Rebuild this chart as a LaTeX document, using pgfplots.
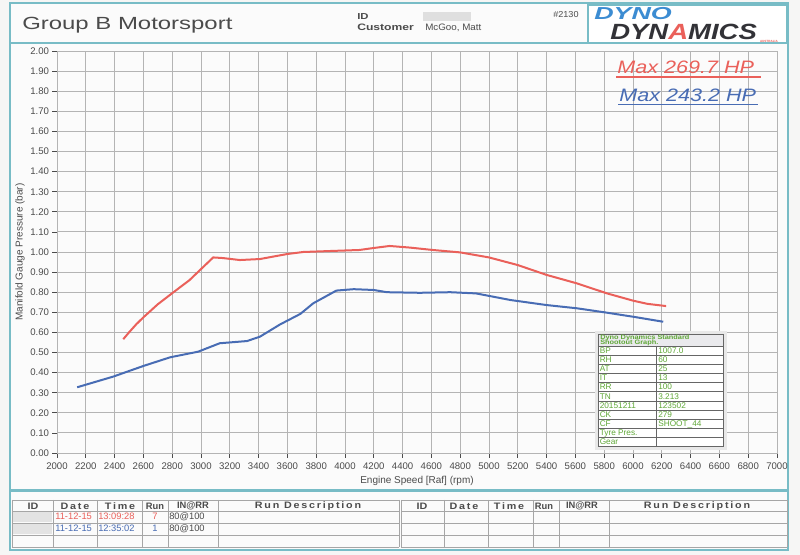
\documentclass[border=0pt]{standalone}
\usepackage{pgfplots}
\pgfplotsset{compat=1.18}
\usepackage{graphicx}
\usepackage{fontspec}
\setmainfont{Liberation Sans}
\definecolor{teal1}{RGB}{120,188,198}
\definecolor{redc}{RGB}{234,96,90}
\definecolor{bluec}{RGB}{72,108,180}
\definecolor{greenc}{RGB}{96,168,56}
\definecolor{gridc}{RGB}{180,180,180}
\definecolor{txt}{RGB}{75,75,75}
\definecolor{paper}{RGB}{246,246,245}
\definecolor{logob}{RGB}{60,140,210}
\definecolor{logod}{RGB}{50,50,55}
\newcommand{\sx}[2]{\scalebox{#1}[1]{#2}}
\newcommand{\fs}[1]{\fontsize{#1}{#1}\selectfont}
\begin{document}
\begin{tikzpicture}
\begin{scope}[x=0.75pt,y=-0.75pt]
\fill[paper] (0,0) rectangle (800,555);
\path[use as bounding box] (0,0) rectangle (800,555);
\fill[white!60!paper] (10,3) rectangle (788,550);
% header
\draw[teal1, line width=1.4pt] (10,3) rectangle (788,43);
\node[anchor=base west, inner sep=0, text=txt] at (22,29.5) {\sx{1.36}{\fs{13.2}Group B Motorsport}};
\node[anchor=base west, inner sep=0, text=txt] at (357,20) {\sx{1.3}{\fs{6.5}\bfseries ID}};
\node[anchor=base west, inner sep=0, text=txt] at (357,31) {\sx{1.3}{\fs{7}\bfseries Customer}};
\fill[gray!25] (423,12) rectangle (471,21);
\node[anchor=base west, inner sep=0, text=txt] at (425,31) {\sx{1.05}{\fs{7}McGoo, Matt}};
\node[anchor=base west, inner sep=0, text=txt] at (553,18) {\sx{1.05}{\fs{6.5}\#2130}};
% logo
\fill[white] (588,5) rectangle (787,43);
\draw[teal1, line width=1.4pt] (588,5) rectangle (787,43);
\node[anchor=base west, inner sep=0, text=logob] at (594,19.5) {\sx{1.55}{\fs{13}\bfseries\itshape DYNO}};
\node[anchor=base west, inner sep=0, text=logod] at (610,39.3) {\sx{1.25}{\fs{16.5}\bfseries\itshape DYN\textcolor{redc}{A}MICS}};
\node[anchor=base east, inner sep=0, text=redc] at (778,42.6) {\fs{2.3}\bfseries AUSTRALIA};
% plot panel
\draw[teal1, line width=1.4pt] (10,43) rectangle (788,490);
\node[rotate=90, text=txt, inner sep=0] at (20,252) {\fs{7.5}Manifold Gauge Pressure (bar)};
\node[text=txt, inner sep=0] at (417,481) {\fs{7.5}Engine Speed [Raf] (rpm)};
% bottom table
\draw[teal1, line width=1.4pt] (10,491) rectangle (788,550);
\begin{scope}[gray!70, line width=0.6pt]
\foreach \yy in {500,511,523,535,547} {\draw (12,\yy) -- (399,\yy); \draw (401,\yy) -- (787,\yy);}
\foreach \xx in {12,53,97,142,168,218,399,401,444,488,533,559,609,787} {\draw (\xx,500) -- (\xx,547);}
\end{scope}
\foreach \off in {0,389} {
\begin{scope}[xshift=\off*0.75pt]
\node[text=txt, inner sep=0] at (33,506) {\sx{1.15}{\fs{7}\bfseries ID}};
\node[text=txt, inner sep=0] at (75,506) {\sx{1.15}{\fs{7}\bfseries D\,a\,t\,e}};
\node[text=txt, inner sep=0] at (120,506) {\sx{1.15}{\fs{7}\bfseries T\,i\,m\,e}};
\node[text=txt, inner sep=0] at (155,506) {\sx{1.0}{\fs{7}\bfseries Run}};
\node[text=txt, inner sep=0] at (193,506) {\sx{1.0}{\fs{7}\bfseries IN@RR}};
\node[text=txt, inner sep=0] at (308,506) {\sx{1.15}{\fs{7}\bfseries R\,u\,n\, D\,e\,s\,c\,r\,i\,p\,t\,i\,o\,n}};
\end{scope}}
\fill[gray!22] (13,512) rectangle (52,522);
\fill[gray!22] (13,524) rectangle (52,534);
\node[anchor=base west, inner sep=0, text=redc] at (55,520) {\fs{7}11-12-15};
\node[anchor=base west, inner sep=0, text=redc] at (98,520) {\fs{7}13:09:28};
\node[anchor=base, inner sep=0, text=redc] at (155,520) {\fs{7}7};
\node[anchor=base west, inner sep=0, text=txt] at (169,520) {\fs{7}80@100};
\node[anchor=base west, inner sep=0, text=bluec] at (55,532) {\fs{7}11-12-15};
\node[anchor=base west, inner sep=0, text=bluec] at (98,532) {\fs{7}12:35:02};
\node[anchor=base, inner sep=0, text=bluec] at (155,532) {\fs{7}1};
\node[anchor=base west, inner sep=0, text=txt] at (169,532) {\fs{7}80@100};
\end{scope}

\begin{axis}[
  at={(42.75pt,-339.75pt)}, anchor=south west,
  scale only axis, width=540pt, height=301.5pt,
  xmin=2000, xmax=7000, ymin=0, ymax=2,
  xtick={2000,2200,...,7000},
  ytick={0,0.1,0.2,0.3,0.4,0.5,0.6,0.7,0.8,0.9,1.0,1.1,1.2,1.3,1.4,1.5,1.6,1.7,1.8,1.9,2.0},
  scaled ticks=false,
  /pgf/number format/1000 sep={},
  /pgf/number format/assume math mode=true,
  yticklabel style={/pgf/number format/fixed,/pgf/number format/fixed zerofill,/pgf/number format/precision=2, xshift=1pt},
  ticklabel style={font=\fs{7.2}, text=txt},
  grid=major, major grid style={gridc, line width=0.6pt},
  axis line style={gridc, line width=0.6pt},
  tick style={txt, line width=0.5pt},
  tick align=outside, major tick length=3.5pt,
  xtick pos=bottom, ytick pos=left,
  clip=false,
]
\addplot[redc, line width=1.5pt] coordinates {
(2460,0.566) (2500,0.60) (2550,0.64) (2600,0.675) (2700,0.74) (2800,0.795) (2920,0.86)
(3000,0.915) (3085,0.973) (3150,0.970) (3270,0.960) (3410,0.965) (3500,0.977)
(3600,0.99) (3710,1.00) (3900,1.005) (4100,1.01) (4200,1.02) (4310,1.03)
(4450,1.022) (4610,1.01) (4800,0.998) (5000,0.973) (5200,0.935) (5400,0.886)
(5610,0.844) (5820,0.794) (6000,0.758) (6100,0.742) (6230,0.731)};
\addplot[bluec, line width=1.5pt] coordinates {
(2140,0.327) (2390,0.38) (2600,0.433) (2785,0.476) (2980,0.504) (3130,0.546)
(3320,0.557) (3410,0.579) (3550,0.64) (3690,0.692) (3780,0.745) (3940,0.808)
(4060,0.815) (4200,0.811) (4290,0.80) (4520,0.797) (4730,0.80) (4910,0.794)
(5150,0.761) (5400,0.736) (5610,0.72) (5820,0.698) (6000,0.678) (6210,0.653)};
\end{axis}

\begin{scope}[x=0.75pt,y=-0.75pt]
% legend texts
\node[anchor=base west, inner sep=0, text=redc] at (617,74) {\sx{1.2}{\fs{13.5}\itshape Max 269.7 HP}};
\draw[redc, line width=1.3pt] (616,77) -- (761,77);
\node[anchor=base west, inner sep=0, text=bluec] at (619,101.5) {\sx{1.2}{\fs{13.5}\itshape Max 243.2 HP}};
\draw[bluec, line width=1.3pt] (618,104.5) -- (758,104.5);
% green table
\fill[gray!18] (595,331) rectangle (727,450);
\fill[white] (598,346) rectangle (723,446.7);
\fill[blue!8!gray!15] (598,334) rectangle (723,346);
\draw[gray!80!black, line width=0.6pt] (598,334) rectangle (723,446.7);
\foreach \i in {0,...,10} {\draw[gray!80!black, line width=0.5pt] (598,{346+9.15*\i}) -- (723,{346+9.15*\i});}
\draw[gray!80!black, line width=0.6pt] (656.7,346) -- (656.7,446.7);
\node[anchor=base west, inner sep=0, text=greenc] at (600,339.5) {\sx{1.15}{\fs{4.8}\bfseries Dyno Dynamics Standard}};
\node[anchor=base west, inner sep=0, text=greenc] at (600,344.6) {\sx{1.15}{\fs{4.8}\bfseries Shootout Graph.}};
\foreach \l/\r [count=\i from 0] in {BP/1007.0, RH/60, AT/25, IT/13, RR/100, TN/3.213, 20151211/123502, CK/279, CF/SHOOT\_44, Tyre Pres./{}, Gear/{}} {
  \node[anchor=base west, inner sep=0, text=greenc] at (599.5,{346+9.15*\i+7.4}) {\fs{6.2}\l};
  \node[anchor=base west, inner sep=0, text=greenc] at (658,{346+9.15*\i+7.4}) {\fs{6.2}\r};
}
\end{scope}
\end{tikzpicture}
\end{document}
